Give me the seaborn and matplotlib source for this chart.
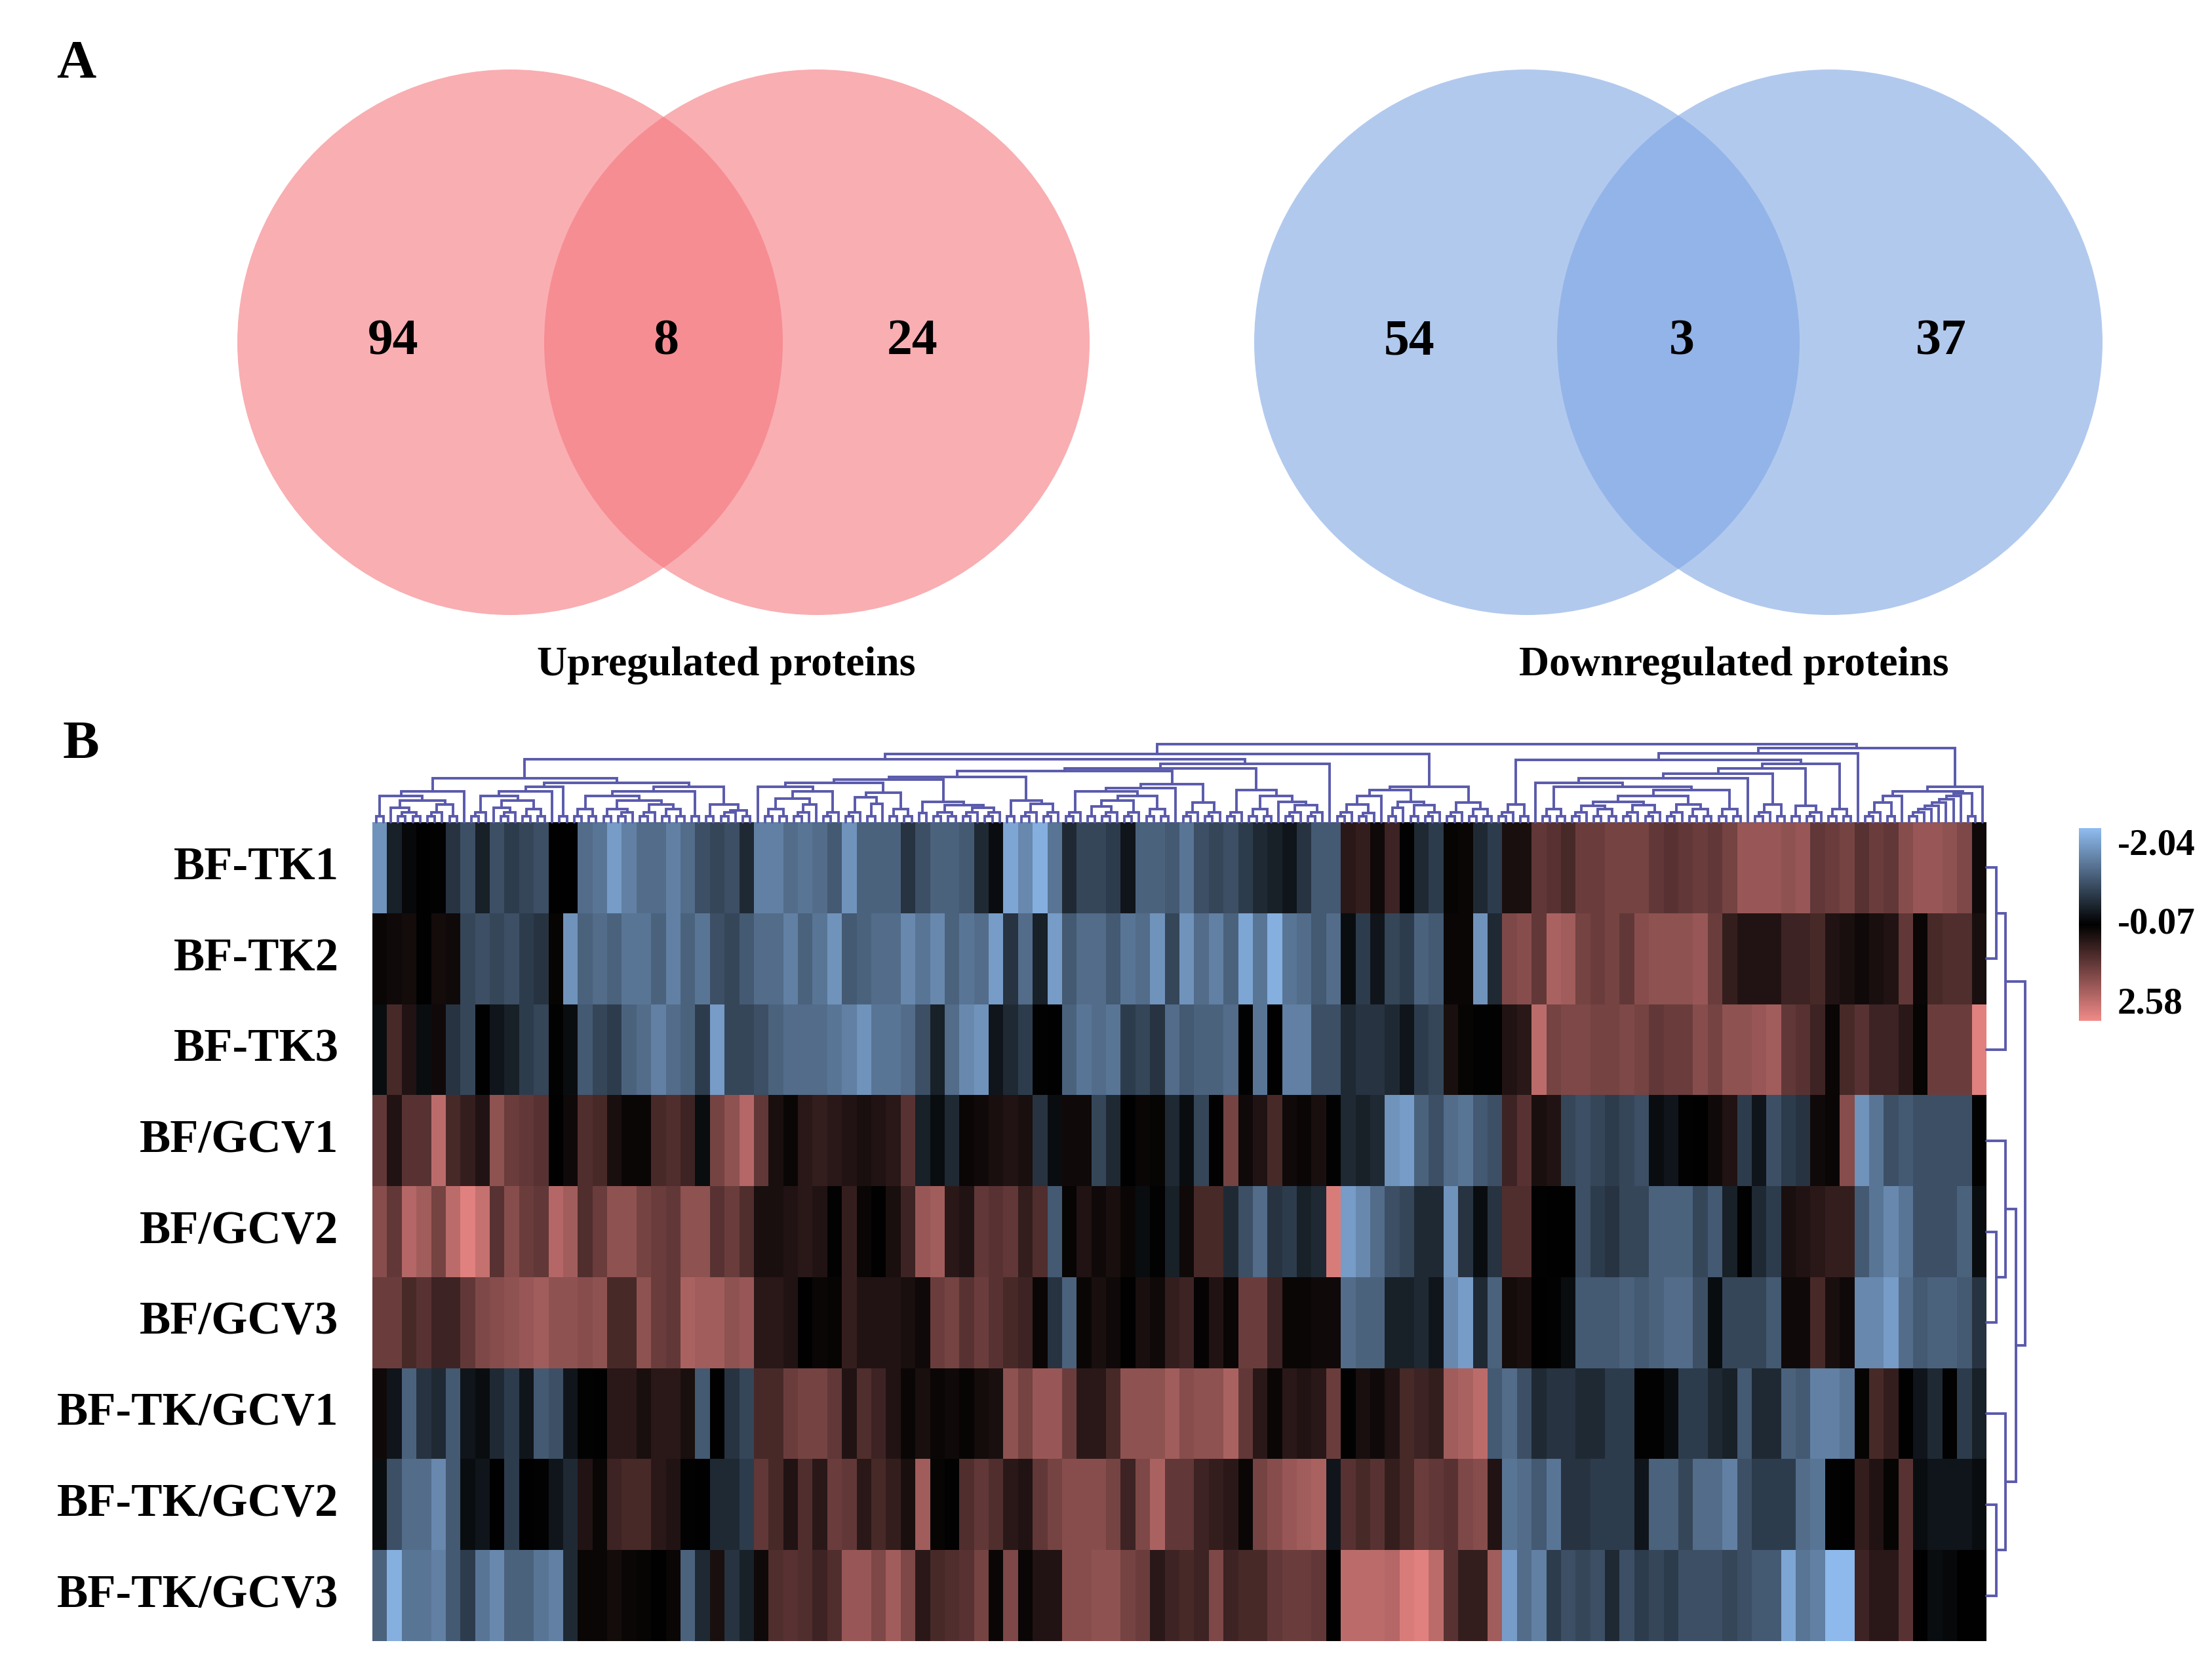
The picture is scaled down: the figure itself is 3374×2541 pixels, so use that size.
import numpy as np
import pandas as pd
import matplotlib
matplotlib.use("Agg")
import matplotlib.pyplot as plt
from matplotlib.colors import LinearSegmentedColormap, TwoSlopeNorm
from matplotlib.patches import Circle
import seaborn as sns

row_labels = ["BF-TK1", "BF-TK2", "BF-TK3", "BF/GCV1", "BF/GCV2", "BF/GCV3",
              "BF-TK/GCV1", "BF-TK/GCV2", "BF-TK/GCV3"]
up_counts = [94, 8, 24]
down_counts = [54, 3, 37]
scale_ticks = [-2.04, -0.07, 2.58]

# heatmap values, 110 columns per sample
bf_tk1 = [-1.6,-0.4,-0.15,-0.05,-0.1,-0.6,-0.9,-0.4,-0.9,-0.7,
          -0.8,-0.9,-0.05,-0.05,-1.2,-1.3,-1.7,-1.4,-1.2,-1.2,
          -1.4,-1.2,-0.9,-0.8,-0.9,-0.5,-1.4,-1.4,-1.2,-1.3,
          -1.2,-1.0,-1.6,-1.1,-1.1,-1.1,-0.6,-0.9,-1.1,-1.1,
          -1.0,-0.5,-0.2,-1.8,-1.5,-1.9,-1.3,-0.5,-0.8,-0.8,
          -0.7,-0.3,-1.1,-1.1,-1.0,-1.3,-0.9,-0.8,-0.9,-0.7,
          -0.5,-0.4,-0.3,-0.6,-1.0,-1.0,0.4,0.5,0.1,0.6,
          -0.1,-0.5,-0.7,0.0,0.05,-0.5,-0.7,0.2,0.2,1.0,
          0.9,0.7,1.1,1.1,1.2,1.2,1.2,1.0,0.9,1.0,
          1.1,1.0,1.2,1.6,1.6,1.6,1.5,1.6,1.0,1.1,
          1.2,0.9,1.1,1.0,1.4,1.6,1.6,1.5,1.3,0.1]
bf_tk2 = [0.05,0.1,0.15,-0.05,0.15,0.1,-0.8,-0.9,-0.8,-0.9,
          -0.7,-0.6,0.0,-1.6,-1.1,-1.2,-1.1,-1.3,-1.3,-1.1,
          -1.4,-1.1,-1.3,-0.9,-0.8,-1.0,-1.2,-1.2,-1.4,-1.1,
          -1.3,-1.6,-1.0,-1.1,-1.2,-1.2,-1.5,-1.3,-1.5,-1.1,
          -1.3,-1.2,-1.7,-0.6,-1.2,-0.4,-1.7,-1.0,-1.2,-1.2,
          -1.0,-1.3,-1.2,-1.6,-0.8,-1.6,-1.2,-1.4,-1.1,-1.8,
          -1.3,-1.9,-1.3,-1.2,-1.0,-1.2,-0.2,-0.7,-0.3,-0.8,
          -0.7,-1.1,-1.0,0.05,0.05,-1.6,-0.5,1.3,1.4,1.0,
          1.8,1.7,1.2,1.1,1.2,1.0,1.4,1.5,1.5,1.5,
          1.6,1.1,0.5,0.3,0.3,0.3,0.6,0.6,0.7,0.3,
          0.2,0.1,0.2,0.3,1.0,0.05,0.7,0.8,0.8,0.2]
bf_tk3 = [-0.2,0.7,0.3,-0.2,0.1,-0.6,-0.8,-0.05,-0.3,-0.4,
          -0.7,-0.8,-0.1,-0.2,-1.0,-0.8,-0.7,-1.1,-1.2,-1.4,
          -1.2,-1.1,-0.7,-1.7,-0.8,-0.8,-0.9,-1.1,-1.2,-1.2,
          -1.2,-1.3,-1.4,-1.6,-1.3,-1.3,-1.2,-0.9,-0.4,-1.2,
          -1.5,-1.6,-0.3,-0.5,-0.7,-0.1,-0.05,-1.1,-1.3,-1.2,
          -1.3,-0.7,-0.8,-0.6,-1.2,-1.0,-1.1,-1.1,-1.2,-0.1,
          -1.3,-0.05,-1.4,-1.4,-0.9,-0.9,-0.5,-0.6,-0.6,-0.5,
          -0.3,-0.7,-0.8,0.2,0.0,-0.1,-0.1,0.3,0.4,2.0,
          1.2,1.3,1.3,1.2,1.2,1.3,1.2,1.0,1.1,1.1,
          1.4,1.2,1.5,1.5,1.6,1.7,1.0,0.9,0.6,0.05,
          0.7,0.9,0.6,0.6,0.4,0.0,1.1,1.1,1.1,2.4]
bf_gcv1 = [1.0,0.3,0.9,0.9,2.0,0.7,0.5,0.3,1.5,1.1,
           1.0,0.9,-0.05,0.1,0.8,0.7,0.2,0.05,0.05,0.7,
           0.8,0.6,-0.2,1.2,1.5,1.9,1.0,0.2,0.05,0.4,
           0.5,0.4,0.3,0.2,0.3,0.4,0.9,-0.4,-0.2,-0.5,
           0.05,0.1,0.2,0.3,0.2,-0.6,-0.2,0.1,0.1,-0.8,
           -0.5,-0.05,0.05,0.0,-0.5,-0.2,-0.8,-0.1,1.2,0.1,
           0.3,0.7,0.1,0.05,0.2,-0.1,-0.5,-0.4,-0.5,-1.6,
           -1.7,-1.1,-0.9,-1.2,-1.3,-1.0,-0.9,0.6,0.9,0.2,
           0.3,-0.8,-0.9,-0.8,-0.7,-0.8,-0.9,-0.2,-0.3,-0.1,
           -0.05,0.1,0.3,-0.7,-0.3,-0.9,-0.7,-0.6,0.1,0.05,
           1.4,-1.6,-1.3,-0.9,-1.0,-0.9,-0.9,-0.9,-0.9,-0.1]
bf_gcv2 = [1.4,1.0,1.9,1.7,1.2,2.0,2.4,2.1,0.9,1.4,
           1.1,1.0,1.9,1.7,0.8,1.1,1.5,1.5,1.2,1.1,
           1.0,1.5,1.5,0.9,1.1,0.8,0.2,0.2,0.3,0.4,
           0.3,-0.1,0.5,0.05,-0.05,0.2,0.6,1.6,1.7,0.4,
           0.3,1.0,0.9,1.0,0.5,0.8,-1.0,0.0,0.3,0.1,
           0.2,0.05,-0.2,-0.1,-0.4,0.1,0.7,0.7,-0.5,-0.9,
           -1.2,-0.6,-0.7,-0.4,-0.5,2.3,-1.7,-1.5,-1.2,-0.9,
           -0.8,-0.5,-0.5,-1.6,-0.6,-0.2,-0.6,0.8,0.8,-0.1,
           -0.05,-0.05,-0.9,-0.7,-0.6,-0.8,-0.8,-1.1,-1.1,-1.1,
           -0.8,-1.0,-0.4,-0.05,-0.5,-0.7,0.2,0.3,0.4,0.5,
           0.5,-1.0,-1.3,-1.5,-1.3,-0.9,-0.9,-0.9,-1.1,-0.2]
bf_gcv3 = [1.1,1.1,0.7,0.9,0.6,0.6,1.0,1.3,1.4,1.5,
           1.6,1.7,1.5,1.5,1.4,1.5,0.7,0.7,1.5,1.1,
           1.0,1.8,1.7,1.7,1.5,1.6,0.4,0.4,0.3,-0.05,
           0.05,0.0,0.5,0.3,0.3,0.3,0.2,0.1,1.1,1.2,
           0.9,1.1,0.9,0.7,0.6,0.05,-0.6,-1.1,0.05,0.2,
           0.1,-0.05,0.2,0.1,0.5,0.6,-0.02,0.3,0.05,1.1,
           1.1,0.6,0.05,0.05,0.1,0.1,-1.2,-1.1,-1.1,-0.4,
           -0.4,-0.5,-0.3,-1.5,-1.7,-0.5,-1.1,0.15,0.2,-0.05,
           -0.1,-0.2,-1.0,-1.0,-1.0,-1.1,-1.0,-1.1,-1.2,-1.2,
           -0.9,-0.2,-0.8,-0.8,-0.8,-1.0,0.1,0.1,0.7,0.2,
           0.1,-1.5,-1.5,-1.7,-1.2,-1.0,-1.1,-1.1,-1.0,-0.6]
bf_tk_gcv1 = [0.1,-0.3,-1.1,-0.6,-0.5,-1.0,-0.3,-0.2,-0.5,-0.7,
              -0.3,-1.0,-0.9,-0.3,-0.1,-0.05,0.4,0.4,0.2,0.4,
              0.4,0.2,-1.0,-0.05,-0.6,-0.8,0.7,0.7,1.1,1.2,
              1.2,1.0,0.3,0.8,0.6,0.3,0.05,0.2,0.05,0.1,
              0.0,0.15,0.2,1.5,1.2,1.6,1.6,1.1,0.4,0.4,
              0.7,1.5,1.5,1.5,1.7,1.4,1.5,1.5,1.8,1.0,
              0.4,0.05,0.4,0.3,0.4,1.1,-0.1,0.2,0.1,0.3,
              0.7,0.6,0.5,1.7,1.8,2.0,-1.0,-1.2,-0.9,-0.5,
              -0.6,-0.6,-0.5,-0.5,-0.7,-0.7,-0.1,-0.1,-0.2,-0.7,
              -0.7,-0.5,-0.4,-1.0,-0.5,-0.5,-1.1,-1.0,-1.4,-1.4,
              -1.3,0.0,0.7,0.5,-0.05,-0.3,-0.5,-0.1,-0.7,-0.4]
bf_tk_gcv2 = [-0.2,-0.9,-1.2,-1.2,-1.5,-1.0,-0.2,-0.3,-0.05,-0.7,
              -0.05,-0.1,-0.3,-0.5,0.3,0.05,0.6,0.7,0.7,0.4,
              0.3,-0.1,-0.05,-0.5,-0.5,-0.7,1.0,0.7,0.3,0.8,
              0.4,1.1,1.0,0.4,0.7,0.5,0.2,1.7,0.0,-0.1,
              0.8,1.0,0.8,0.4,0.3,1.0,1.2,1.4,1.4,1.4,
              1.2,0.6,1.3,1.8,1.0,1.0,0.6,0.5,0.4,0.05,
              1.2,1.4,1.6,1.7,1.8,-0.3,0.9,0.7,0.9,0.5,
              0.7,1.1,1.0,0.9,1.3,1.4,0.3,-1.3,-1.2,-1.0,
              -1.3,-0.6,-0.6,-0.7,-0.7,-0.7,-0.3,-1.1,-1.1,-0.8,
              -1.2,-1.2,-1.4,-0.9,-0.7,-0.7,-0.7,-1.2,-1.3,-0.1,
              -0.05,0.5,0.3,0.0,0.9,-0.2,-0.3,-0.3,-0.3,-0.2]
bf_tk_gcv3 = [-1.1,-1.9,-1.3,-1.3,-1.4,-1.0,-0.7,-1.3,-1.5,-1.1,
              -1.1,-1.3,-1.4,-0.5,0.05,0.05,0.15,0.05,0.0,-0.05,
              0.05,-1.1,-0.5,0.2,-0.6,-0.4,0.1,0.8,0.9,0.8,
              0.6,0.8,1.6,1.6,1.3,1.7,1.3,0.4,0.7,0.8,
              0.9,1.2,0.05,1.3,0.05,0.3,0.3,1.4,1.4,1.5,
              1.5,1.2,1.1,0.4,0.6,0.7,0.6,1.3,0.6,0.7,
              0.7,1.0,1.1,1.1,1.0,-0.05,2.0,2.0,2.0,1.9,
              2.3,2.4,2.0,0.9,0.5,0.5,1.7,-1.7,-1.2,-1.4,
              -0.7,-0.9,-0.8,-0.9,-0.5,-0.9,-0.7,-0.8,-0.7,-0.9,
              -0.9,-0.9,-0.8,-0.9,-1.0,-1.0,-1.8,-1.3,-1.4,-2.0,
              -2.0,0.6,0.4,0.4,0.9,-0.05,-0.2,-0.15,-0.05,-0.05]

# dendrograms: [height, left, right], 0 is a leaf
T = [9, 0, 0]
C3 = [15, T, 0]
F4 = [20, T, T]
C5 = [20, T, C3]
group_a = [47, [40, T, [33, [22, 0, [15, T, T]], [27, C3, T]]], 0]
group_b = [47, [40, C3, [33, [22, 0, [15, T, 0]], F4]], 0]
group_d = [47, [40, F4, [33, C5, [27, C3, F4]]], T]
group_e = [27, T, [18, C3, T]]
left_part = [67, group_a, [60, [54, group_b, T], [54, group_d, group_e]]]
p1 = [54, 0, [47, [36, F4, [27, C3, 0]], C3]]
p2 = [45, [38, C3, [28, T, 0]], F4]
p3 = [31, [14, 0, 0], [26, [15, T, T], [22, C3, C3]]]
p4 = [33, T, [28, C3, C3]]
q2 = [69, [65, [60, p1, p2], p3], p4]
q3 = [58, [52, [47, C3, [40, [33, [24, T, C3], C3], F4]], 0], [30, C3, C3]]
q5 = [82, [78, q2, q3], [49, C3, [40, F4, [31, 0, [26, C3, C3]]]]]
mid_part = [89, q5, 0]
c_part = [49, [40, [27, C3, [14, T, 0]], 0], [31, [22, T, 0], [26, T, C3]]]
side_part = [54, c_part, [30, C3, F4]]
g3 = [31, [25, C3, F4], [26, C3, C3]]
g_core = [60, 0, [54, F4, [49, [40, g3, [27, C3, F4]], F4]]]
g_stack = [89, [82, [74, [67, g_core, 0], [27, C3, T]], [25, T, C3]], F4]
comb = [40, [35, [30, [25, [20, C3, 0], 0], 0], 0], 0]
g9 = [54, [47, [40, [30, C3, T], 0], [44, comb, T]], 0]
right_part = [113, [105, [95, [27, C3, T], g_stack], 0], g9]
col_tree = [119, [104, [96, left_part, mid_part], side_part], right_part]
row_tree = [59, [29, [15, 0, 0], 0], [45, [29, 0, [15, 0, 0]], [29, 0, [15, 0, 0]]]]

W, H = 3374, 2541


def px_rect(left, top, right, bottom):
    return [left / W, 1 - bottom / H, (right - left) / W, (bottom - top) / H]


def walk(node, counter, segs):
    # returns position and height of a node, collects its bracket
    if node == 0:
        counter[0] += 1
        return counter[0] - 0.5, 0
    h, a, b = node
    xa, ha = walk(a, counter, segs)
    xb, hb = walk(b, counter, segs)
    segs.append(((xa, xa, xb, xb), (ha, h, h, hb)))
    return (xa + xb) / 2, h


sns.set_theme(style="white")
plt.rcParams["font.family"] = ["Liberation Serif", "DejaVu Serif"]
plt.rcParams["font.weight"] = "bold"
plt.rcParams["text.color"] = "black"

fig = plt.figure(figsize=(W / 100, H / 100), dpi=100, facecolor="white")

# panel A
bg = fig.add_axes([0, 0, 1, 1])
bg.set_xlim(0, W)
bg.set_ylim(H, 0)
bg.axis("off")
for cx, color in [(778, "#f5787f"), (1246, "#f5787f"), (2329, "#7fa6e4"), (2791, "#7fa6e4")]:
    bg.add_patch(Circle((cx, 522), 416, facecolor=color, edgecolor="none", alpha=0.6))
for x, n in zip([600, 1016, 1392], up_counts):
    bg.text(x, 522, str(n), ha="center", va="center", fontsize=56, fontweight="bold")
for x, n in zip([2150, 2565, 2961], down_counts):
    bg.text(x, 522, str(n), ha="center", va="center", fontsize=56, fontweight="bold")
bg.text(1108, 1015, "Upregulated proteins", ha="center", va="center", fontsize=46, fontweight="bold")
bg.text(2645, 1015, "Downregulated proteins", ha="center", va="center", fontsize=46, fontweight="bold")
bg.text(116, 98, "A", ha="center", va="center", fontsize=60, fontweight="bold")
bg.text(123, 1136, "B", ha="center", va="center", fontsize=60, fontweight="bold")

# panel B
df = pd.DataFrame([bf_tk1, bf_tk2, bf_tk3, bf_gcv1, bf_gcv2, bf_gcv3,
                   bf_tk_gcv1, bf_tk_gcv2, bf_tk_gcv3], index=row_labels)
cmap = LinearSegmentedColormap.from_list("bkr", ["#8fbcf0", "#000000", "#f08a88"])
norm = TwoSlopeNorm(vmin=scale_ticks[0], vcenter=scale_ticks[1], vmax=scale_ticks[2])

ax = fig.add_axes(px_rect(568, 1254, 3030, 2503))
cax = fig.add_axes(px_rect(3171, 1263, 3205, 1557))
sns.heatmap(df, ax=ax, cbar_ax=cax, cmap=cmap, norm=norm, xticklabels=False,
            yticklabels=True, cbar_kws={"ticks": scale_ticks})
ax.tick_params(axis="y", length=0, pad=37, labelsize=51, labelrotation=0, labelcolor="black")
for lab in ax.get_yticklabels():
    lab.set_fontweight("bold")
ax.set_xlabel("")
ax.set_ylabel("")

cax.invert_yaxis()
cax.tick_params(length=0, pad=18, labelsize=41, labelcolor="black")
cax.set_yticks(scale_ticks)
cax.set_yticklabels([f"{v:.2f}" for v in scale_ticks], fontweight="bold")
for lab, va in zip(cax.get_yticklabels(), ["top", "center", "bottom"]):
    lab.set_va(va)

# dendrograms
line_color = "#5a5aac"
top = fig.add_axes(px_rect(568, 1125, 3030, 1254))
top.set_xlim(0, 220)
top.set_ylim(0, 129)
top.axis("off")
segs = []
walk(col_tree, [0], segs)
for xs, ys in segs:
    top.plot(xs, ys, color=line_color, lw=2.8, solid_joinstyle="miter", clip_on=False)

side = fig.add_axes(px_rect(3030, 1254, 3110, 2503))
side.set_xlim(0, 80)
side.set_ylim(9, 0)
side.axis("off")
segs = []
walk(row_tree, [0], segs)
for ys, xs in segs:
    side.plot(xs, ys, color=line_color, lw=2.8, solid_joinstyle="miter", clip_on=False)

fig.savefig("out.png", dpi=100, facecolor="white")
